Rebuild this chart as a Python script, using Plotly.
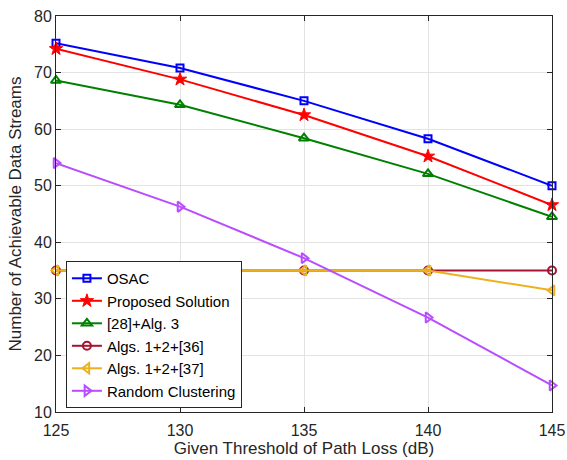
import plotly.graph_objects as go

x_vals = [125, 130, 135, 140, 145]
osac = [75.2, 70.8, 65.0, 58.3, 50.0]
proposed = [74.2, 68.8, 62.5, 55.2, 46.6]
alg28 = [68.6, 64.3, 58.4, 52.1, 44.5]
algs36 = [35.0, 35.0, 35.0, 35.0, 35.0]
algs37 = [35.0, 35.0, 35.0, 35.0, 31.5]
random_cl = [54.0, 46.3, 37.2, 26.7, 14.7]

series = [
    ("OSAC", osac, "#0000FF", "square-open", 7, 2),
    ("Proposed Solution", proposed, "#FF0000", "star", 10, 1),
    ("[28]+Alg. 3", alg28, "#008000", "triangle-up-open", 9, 2),
    ("Algs. 1+2+[36]", algs36, "#A2142F", "circle-open", 8, 2),
    ("Algs. 1+2+[37]", algs37, "#EDB120", "triangle-left-open", 9, 2),
    ("Random Clustering", random_cl, "#B84DFF", "triangle-right-open", 9, 2),
]

fig = go.Figure()
for name, vals, color, sym, size, lw in series:
    fig.add_trace(go.Scatter(
        x=x_vals, y=vals, name=name, mode="lines+markers",
        line=dict(color=color, width=2),
        marker=dict(symbol=sym, size=size, color=color,
                    line=dict(color=color, width=lw)),
        cliponaxis=False,
    ))

axis_common = dict(
    showgrid=True, gridcolor="#E3E3E3", gridwidth=1,
    showline=True, linecolor="#262626", linewidth=1, mirror="allticks",
    ticks="inside", ticklen=5, tickcolor="#262626",
    tickfont=dict(size=16, color="#262626"),
    zeroline=False, automargin=False,
)

fig.update_layout(
    width=567, height=460,
    margin=dict(l=56, r=15, t=16, b=48),
    paper_bgcolor="white", plot_bgcolor="white",
    font=dict(family="Liberation Sans, Arial, sans-serif", color="#262626"),
    xaxis=dict(range=[125, 145], tickvals=[125, 130, 135, 140, 145],
               ticklabelstandoff=4,
               title=dict(text="Given Threshold of Path Loss (dB)", font=dict(size=17), standoff=3),
               **axis_common),
    yaxis=dict(range=[10, 80], tickvals=[10, 20, 30, 40, 50, 60, 70, 80],
               title=dict(text="Number of Achievable Data Streams", font=dict(size=17), standoff=8),
               **axis_common),
    legend=dict(x=0.02, y=0.01, xanchor="left", yanchor="bottom",
                bgcolor="white", bordercolor="#262626", borderwidth=1,
                font=dict(size=15, color="black"), tracegroupgap=0),
    showlegend=True,
)

fig.write_html("out.html")
